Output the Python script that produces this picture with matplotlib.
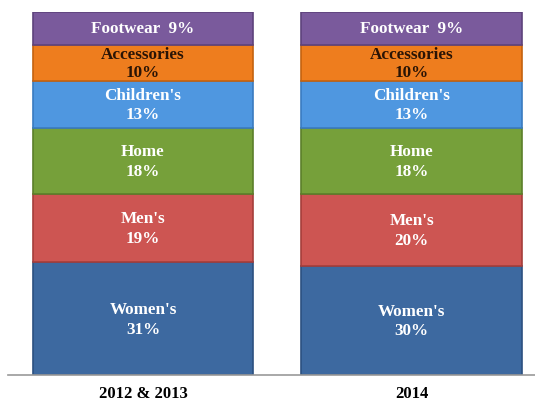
import numpy as np
import matplotlib
matplotlib.use("Agg")
import matplotlib.pyplot as plt

plt.rcParams["font.family"] = ["Liberation Serif", "DejaVu Serif"]

periods = ["2012 & 2013", "2014"]
categories = ["Women's", "Men's", "Home", "Children's", "Accessories", "Footwear"]
shares = {
    "2012 & 2013": [31, 19, 18, 13, 10, 9],
    "2014": [30, 20, 18, 13, 10, 9],
}
colors = ["#3d69a0", "#cd5552", "#76a03a", "#4f97e0", "#ee7d1e", "#7a5a9c"]
edges = ["#2c5080", "#a53e3b", "#5b7f2a", "#3a7bc0", "#c4620f", "#5e437c"]
text_colors = ["white", "white", "white", "white", "#2a1405", "white"]

fig = plt.figure(figsize=(5.35, 4.02), dpi=100)
ax = fig.add_axes([8 / 535, 26 / 402, 527 / 535, 363 / 402])

x = np.arange(len(periods))
width = 0.82
for i, p in enumerate(periods):
    bottom = 0
    for j, (cat, v) in enumerate(zip(categories, shares[p])):
        ax.bar(x[i], v, width=width, bottom=bottom, color=colors[j],
               edgecolor=edges[j], linewidth=1.2)
        if cat == "Footwear":
            label = f"{cat}  {v}%"
        else:
            label = f"{cat}\n{v}%"
        ax.text(x[i], bottom + v / 2, label, ha="center", va="center",
                color=text_colors[j], fontsize=12.3, fontweight="bold",
                linespacing=1.12 if cat == "Accessories" else 1.32)
        bottom += v

ax.set_xlim(-0.503, 1.46)
ax.set_ylim(0, 100)
ax.set_xticks(x)
ax.set_xticklabels(periods, fontsize=12, fontweight="bold")
ax.tick_params(axis="x", length=0, pad=7)
ax.set_yticks([])
for s in ["top", "right", "left"]:
    ax.spines[s].set_visible(False)
ax.spines["bottom"].set_color("#999999")
ax.spines["bottom"].set_linewidth(1.2)

fig.savefig("out.png", dpi=100)
